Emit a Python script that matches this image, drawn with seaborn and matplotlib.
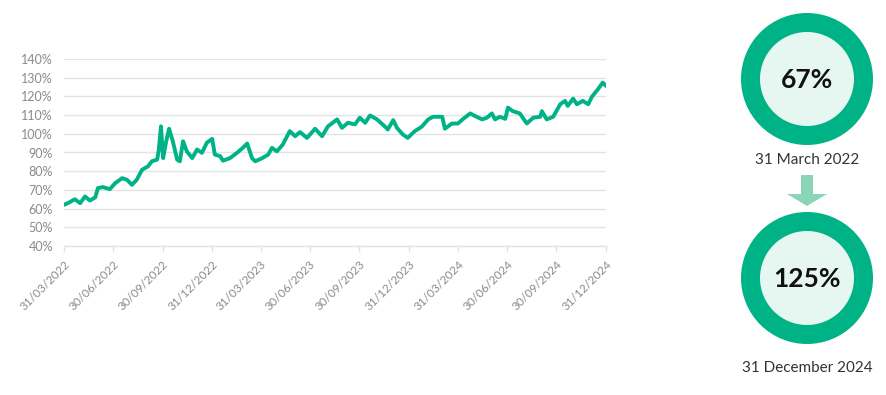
import matplotlib
matplotlib.use("Agg")
import matplotlib.pyplot as plt
import seaborn as sns
import pandas as pd
from matplotlib.patches import Circle, FancyArrow

# ---------------- data ----------------
dates = [
    "2022-03-31", "2022-04-11", "2022-04-20", "2022-04-30", "2022-05-09", "2022-05-18",
    "2022-05-28", "2022-06-02", "2022-06-11", "2022-06-24", "2022-07-04", "2022-07-17",
    "2022-07-26", "2022-08-04", "2022-08-13", "2022-08-23", "2022-09-03", "2022-09-10",
    "2022-09-20", "2022-09-23", "2022-09-27", "2022-10-01", "2022-10-06", "2022-10-12",
    "2022-10-19", "2022-10-27", "2022-11-01", "2022-11-07", "2022-11-14", "2022-11-24",
    "2022-12-03", "2022-12-12", "2022-12-21", "2022-12-31", "2023-01-05", "2023-01-15",
    "2023-01-20", "2023-02-02", "2023-02-15", "2023-02-24", "2023-03-06", "2023-03-15",
    "2023-03-21", "2023-04-03", "2023-04-14", "2023-04-21", "2023-04-30", "2023-05-11",
    "2023-05-24", "2023-06-03", "2023-06-12", "2023-06-25", "2023-07-10", "2023-07-23",
    "2023-08-03", "2023-08-20", "2023-08-29", "2023-09-09", "2023-09-22", "2023-10-01",
    "2023-10-11", "2023-10-20", "2023-11-02", "2023-11-17", "2023-11-22", "2023-12-02",
    "2023-12-09", "2023-12-20", "2023-12-29", "2024-01-11", "2024-01-24", "2024-02-05",
    "2024-02-14", "2024-03-02", "2024-03-07", "2024-03-20", "2024-03-31", "2024-04-10",
    "2024-04-23", "2024-05-02", "2024-05-15", "2024-05-24", "2024-06-02", "2024-06-08",
    "2024-06-17", "2024-06-27", "2024-07-02", "2024-07-11", "2024-07-24", "2024-08-06",
    "2024-08-18", "2024-08-31", "2024-09-03", "2024-09-12", "2024-09-24", "2024-10-07",
    "2024-10-16", "2024-10-21", "2024-10-31", "2024-11-07", "2024-11-18", "2024-11-28",
    "2024-12-05", "2024-12-16", "2024-12-25", "2024-12-31",
]
values = [
    62.0, 63.5, 65.0, 62.9, 66.5, 64.3,
    66.0, 71.0, 71.5, 70.4, 73.6, 76.3,
    75.4, 72.7, 75.4, 80.8, 82.6, 85.3,
    86.2, 91.6, 104.0, 87.0, 95.0, 102.7,
    96.0, 86.2, 85.3, 96.0, 90.6, 87.0,
    91.6, 89.8, 95.2, 97.3, 88.9, 88.0,
    85.6, 87.0, 89.8, 92.0, 94.8, 87.0,
    85.3, 87.0, 88.9, 92.5, 90.6, 94.2,
    101.4, 98.7, 100.9, 97.8, 102.7, 98.7,
    104.0, 107.7, 103.2, 105.9, 105.0, 108.6,
    105.9, 109.8, 107.7, 103.8, 102.3, 107.3,
    103.2, 99.6, 97.8, 101.4, 103.8, 107.7,
    109.1, 109.1, 102.7, 105.5, 105.5, 108.0,
    110.9, 109.5, 107.7, 108.6, 110.9, 107.7,
    109.1, 108.0, 114.0, 112.1, 110.9, 105.5,
    108.6, 109.1, 112.1, 107.7, 109.1, 115.8,
    117.6, 114.9, 118.8, 115.8, 117.6, 115.8,
    119.9, 123.8, 127.4, 125.6,
]
tick_dates = [
    "2022-03-31", "2022-06-30", "2022-09-30", "2022-12-31",
    "2023-03-31", "2023-06-30", "2023-09-30", "2023-12-31",
    "2024-03-31", "2024-06-30", "2024-09-30", "2024-12-31",
]
tick_labels = [
    "31/03/2022", "30/06/2022", "30/09/2022", "31/12/2022",
    "31/03/2023", "30/06/2023", "30/09/2023", "31/12/2023",
    "31/03/2024", "30/06/2024", "30/09/2024", "31/12/2024",
]
y_ticks = [40, 50, 60, 70, 80, 90, 100, 110, 120, 130, 140]
y_tick_labels = [f"{v}%" for v in y_ticks]

badge_values = ["67%", "125%"]
badge_labels = ["31 March 2022", "31 December 2024"]

# ---------------- style ----------------
GREEN = "#00B386"
LIGHT = "#E6F7F2"
ARROW = "#8AD5B7"
GRID = "#E3E3E3"
TICKTXT = "#8A8A8A"

sns.set_theme(style="white")
plt.rcParams["font.family"] = ["Lato", "DejaVu Sans"]

W, H = 887, 395
fig = plt.figure(figsize=(W / 100, H / 100), dpi=100)

# main chart axes (pixel geometry of reference)
left, right, top, bottom = 64, 606, 59, 246
ax = fig.add_axes([left / W, 1 - bottom / H, (right - left) / W, (bottom - top) / H])

df = pd.DataFrame({"date": pd.to_datetime(dates), "value": values})
sns.lineplot(data=df, x="date", y="value", ax=ax, color=GREEN, linewidth=2.8,
             solid_joinstyle="round", solid_capstyle="round")

ax.set_xlim(pd.Timestamp(tick_dates[0]), pd.Timestamp(tick_dates[-1]))
ax.set_ylim(40, 140)
ax.set_yticks(y_ticks)
ax.set_yticklabels(y_tick_labels)
ax.set_xticks(pd.to_datetime(tick_dates))
ax.set_xticklabels(tick_labels, rotation=45, ha="right", rotation_mode="anchor")
ax.set_xlabel("")
ax.set_ylabel("")

ax.grid(axis="y", color=GRID, linewidth=1.0)
ax.grid(axis="x", visible=False)
ax.set_axisbelow(True)
for s in ["top", "right", "left"]:
    ax.spines[s].set_visible(False)
ax.spines["bottom"].set_color(GRID)
ax.spines["bottom"].set_linewidth(1.0)
ax.tick_params(axis="y", length=0, pad=8, labelsize=9, labelcolor=TICKTXT)
ax.tick_params(axis="x", length=4, width=1, color=GRID, pad=5, labelsize=8.5,
               labelcolor=TICKTXT, bottom=True)

# right-hand badges (overlay axes in pixel coordinates)
ov = fig.add_axes([0, 0, 1, 1])
ov.set_xlim(0, W)
ov.set_ylim(H, 0)
ov.axis("off")
ov.set_zorder(-1)

cx = 807
centers = [79, 278]
label_y = [160, 368]
for cy, val, lab, ly in zip(centers, badge_values, badge_labels, label_y):
    ov.add_patch(Circle((cx, cy), 66, facecolor=GREEN, edgecolor="none"))
    ov.add_patch(Circle((cx, cy), 47, facecolor=LIGHT, edgecolor="none"))
    ov.text(cx, cy + 1, val, ha="center", va="center", fontsize=19,
            fontweight="bold", color="#111111")
    ov.text(cx, ly, lab, ha="center", va="center", fontsize=11, color="#333333")

ov.add_patch(FancyArrow(cx, 175, 0, 31, width=12, head_width=40, head_length=12,
                        length_includes_head=True, facecolor=ARROW, edgecolor="none"))

fig.savefig("out.png", dpi=100, facecolor="white")
